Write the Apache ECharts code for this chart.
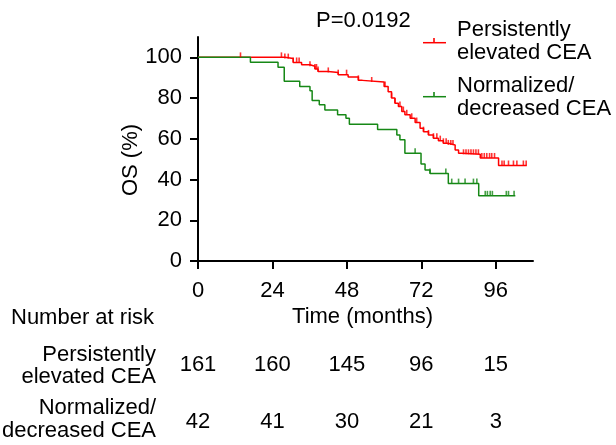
<!DOCTYPE html>
<html>
<head>
<meta charset="utf-8">
<script src="https://cdn.jsdelivr.net/npm/echarts@6/dist/echarts.min.js"></script>
<style>
  html, body { margin: 0; padding: 0; background: #fff; }
  #chart { width: 616px; height: 445px; }
</style>
</head>
<body>
<div id="chart"></div>
<script>
// KM steps: [month, OS %]
const elevatedSteps = [
  [0, 100], [28.0, 99.4], [30.7, 97.5], [33.4, 96.4], [36.1, 95.6], [37.7, 94.3],
  [38.7, 93.1], [42.0, 92.6], [45.2, 91.5], [48.4, 90.3], [51.7, 88.7], [53.0, 87.9],
  [60.0, 85.7], [61.3, 83.1], [62.4, 80.0], [63.5, 77.5], [64.6, 75.9], [65.7, 73.4],
  [66.7, 71.8], [68.4, 70.1], [70.0, 68.0], [71.6, 65.2], [72.7, 63.5], [74.3, 61.9],
  [75.9, 60.3], [77.5, 59.1], [79.1, 57.8], [80.6, 57.0], [82.9, 54.5], [84.0, 52.9],
  [85.0, 52.4], [91.0, 50.6], [96.9, 46.9], [106.0, 46.9]
];
const elevatedCensor = [
  13.7, 26.9, 28.0, 29.1, 30.7, 31.8, 32.6, 36.1, 37.7, 38.2, 38.7, 42.0, 45.2, 47.9,
  51.7, 56.0, 60.3, 62.4, 63.5, 65.1, 66.2, 67.3, 68.9, 70.5, 72.7, 74.3, 75.9, 77.0,
  78.1, 79.1, 80.0, 80.7, 81.5, 82.2, 85.6, 86.4, 87.2, 88.0, 88.8, 89.6, 90.4, 91.5,
  92.3, 93.1, 94.0, 94.7, 95.6, 98.0, 98.7, 100.1, 101.7, 102.8, 104.9, 105.8
];
const normalizedSteps = [
  [0, 100], [16.9, 97.6], [25.8, 95.2], [27.8, 88.3], [32.8, 85.7], [36.1, 83.6],
  [36.8, 78.8], [39.1, 76.7], [40.9, 74.2], [45.0, 71.8], [47.7, 70.1], [48.8, 67.2],
  [57.9, 64.6], [64.1, 61.9], [65.1, 59.5], [66.7, 52.9], [71.9, 47.6], [73.2, 44.7],
  [74.8, 43.0], [80.7, 38.0], [90.5, 32.0], [102.3, 32.0]
];
const normalizedCensor = [
  70.0, 74.8, 79.9, 81.8, 84.0, 86.1, 88.8, 89.9, 92.6, 93.3, 94.2, 94.9, 99.4, 100.1, 101.9
];

const riskTimes = [0, 24, 48, 72, 96];
const riskElevated = [161, 160, 145, 96, 15];
const riskNormalized = [42, 41, 30, 21, 3];
const xTicks = [0, 24, 48, 72, 96];
const yTicks = [0, 20, 40, 60, 80, 100];

const RED = '#ff0000';
const GREEN = '#168816';
const FONT = '"Liberation Sans", Arial, Helvetica, sans-serif';
const FS = 22;

function survAt(steps, t) {
  let s = steps[0][1];
  for (const p of steps) {
    if (p[0] <= t) s = p[1];
  }
  return s;
}

const chart = echarts.init(document.getElementById('chart'));

function censorSeries(times, steps, color) {
  return {
    type: 'scatter',
    data: times.map(t => [t, survAt(steps, t)]),
    symbol: 'rect',
    symbolSize: [1.6, 5],
    symbolOffset: [0, -2.5],
    itemStyle: { color: color },
    silent: true,
    z: 3
  };
}

chart.setOption({
  animation: false,
  grid: { left: 198, right: 83, top: 37, bottom: 184, outerBoundsMode: 'none' },
  xAxis: {
    type: 'value', min: 0, max: 108, interval: 24,
    axisLine: { lineStyle: { color: '#000', width: 2 } },
    axisTick: { length: 8, lineStyle: { color: '#000', width: 2 }, customValues: xTicks },
    axisLabel: { color: '#000', fontSize: FS, fontFamily: FONT, margin: 19, customValues: xTicks },
    splitLine: { show: false }
  },
  yAxis: {
    type: 'value', min: 0, max: 110, interval: 20,
    axisLine: { show: true, lineStyle: { color: '#000', width: 2 } },
    axisTick: { show: true, length: 8, lineStyle: { color: '#000', width: 2 }, customValues: yTicks },
    axisLabel: { color: '#000', fontSize: FS, fontFamily: FONT, margin: 16, customValues: yTicks },
    splitLine: { show: false }
  },
  series: [
    {
      type: 'line', step: 'end', data: elevatedSteps, showSymbol: false,
      lineStyle: { color: RED, width: 1.5 }, z: 2
    },
    {
      type: 'line', step: 'end', data: normalizedSteps, showSymbol: false,
      lineStyle: { color: GREEN, width: 1.5 }, z: 2
    },
    censorSeries(elevatedCensor, elevatedSteps, RED),
    censorSeries(normalizedCensor, normalizedSteps, GREEN)
  ]
});

// texts, legend and risk table
const txt = (x, y, text, extra) => ({
  type: 'text', x: x, y: y, silent: true,
  style: Object.assign({ text: text, fill: '#000', font: FS + 'px ' + FONT, lineHeight: 22.5 }, extra || {})
});

const graphics = [
  txt(316, 20.5, 'P=0.0192', { verticalAlign: 'middle' }),
  txt(457, 41.5, 'Persistently\nelevated CEA', { verticalAlign: 'middle' }),
  txt(457, 97.5, 'Normalized/\ndecreased CEA', { verticalAlign: 'middle' }),
  { type: 'line', silent: true, shape: { x1: 423, y1: 42.7, x2: 446, y2: 42.7 }, style: { stroke: RED, lineWidth: 1.5 } },
  { type: 'line', silent: true, shape: { x1: 434, y1: 42.7, x2: 434, y2: 38 }, style: { stroke: RED, lineWidth: 1.6 } },
  { type: 'line', silent: true, shape: { x1: 423, y1: 96.7, x2: 446, y2: 96.7 }, style: { stroke: GREEN, lineWidth: 1.5 } },
  { type: 'line', silent: true, shape: { x1: 434, y1: 96.7, x2: 434, y2: 92 }, style: { stroke: GREEN, lineWidth: 1.6 } },
  Object.assign(txt(131, 160, 'OS (%)', { align: 'center', verticalAlign: 'middle' }), { rotation: Math.PI / 2 }),
  txt(362.5, 317, 'Time (months)', { align: 'center', verticalAlign: 'middle' }),
  txt(11, 317.5, 'Number at risk', { verticalAlign: 'middle' }),
  txt(156, 366, 'Persistently\nelevated CEA', { align: 'right', verticalAlign: 'middle' }),
  txt(156, 419.5, 'Normalized/\ndecreased CEA', { align: 'right', verticalAlign: 'middle' })
];

riskTimes.forEach((t, i) => {
  const px = chart.convertToPixel({ xAxisIndex: 0 }, t);
  graphics.push(txt(px, 365, String(riskElevated[i]), { align: 'center', verticalAlign: 'middle' }));
  graphics.push(txt(px, 421.5, String(riskNormalized[i]), { align: 'center', verticalAlign: 'middle' }));
});

chart.setOption({ graphic: graphics });
</script>
</body>
</html>
